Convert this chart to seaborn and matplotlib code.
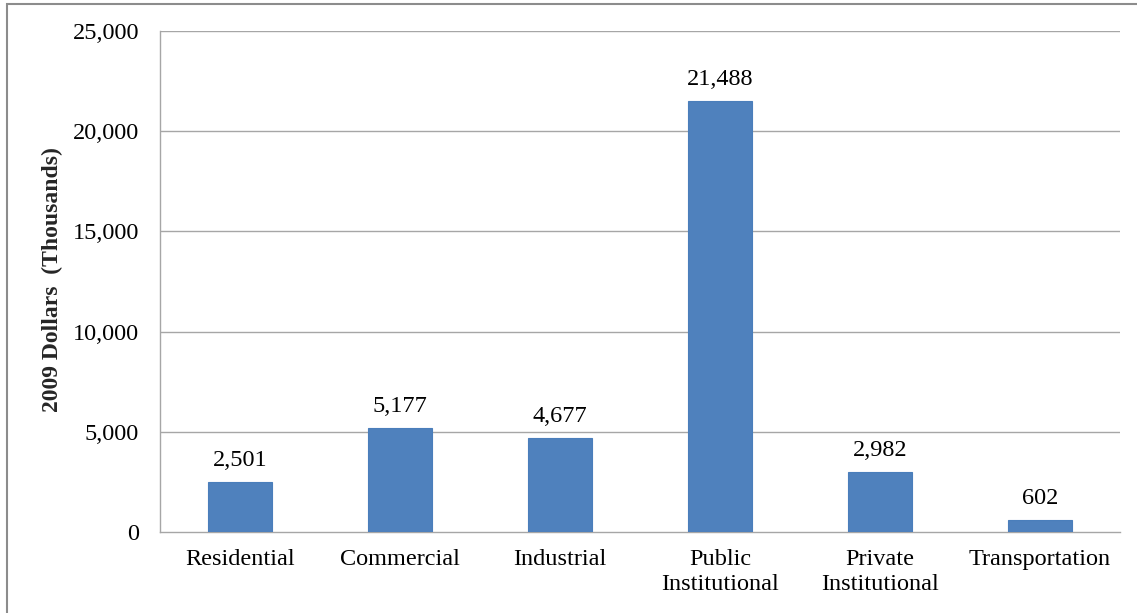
import matplotlib
matplotlib.use("Agg")
import matplotlib.pyplot as plt
import seaborn as sns
import pandas as pd
from matplotlib.patches import Rectangle
from matplotlib.ticker import FuncFormatter, FixedLocator

categories = ["Residential", "Commercial", "Industrial", "Public\nInstitutional",
              "Private\nInstitutional", "Transportation"]
values = [2501, 5177, 4677, 21488, 2982, 602]
y_ticks = [0, 5000, 10000, 15000, 20000, 25000]

sns.set_theme(style="white")
plt.rcParams["font.family"] = ["Liberation Serif", "DejaVu Serif"]

df = pd.DataFrame({"category": categories, "value": values})

fs = 17.5
fig = plt.figure(figsize=(11.37, 6.13), dpi=100)
ax = fig.add_axes([160 / 1137, 1 - 532 / 613, (1120 - 160) / 1137, (532 - 31) / 613])

grid_color = "#a6a6a6"
sns.barplot(data=df, x="category", y="value", ax=ax, color="#4f81bd",
            width=0.4, edgecolor="#4a7ebb", linewidth=0.8, saturation=1, zorder=3)

ax.set_ylim(0, 25000)
ax.set_xlim(-0.5, len(categories) - 0.5)
ax.set_yticks(y_ticks)
ax.yaxis.set_major_formatter(FuncFormatter(lambda v, p: f"{int(v):,}"))
for y in y_ticks[1:]:
    ax.axhline(y, color=grid_color, lw=1.0, zorder=1)

for i, v in enumerate(values):
    ax.annotate(f"{v:,}", (i, v), xytext=(0, 8), textcoords="offset points",
                ha="center", va="bottom", fontsize=fs, color="black")

for side in ["top", "right"]:
    ax.spines[side].set_visible(False)
for side in ["left", "bottom"]:
    ax.spines[side].set_color(grid_color)
    ax.spines[side].set_linewidth(1.0)

ax.tick_params(axis="y", length=7, width=1.0, color=grid_color, labelsize=fs,
               pad=8, labelcolor="black")
ax.tick_params(axis="x", length=0, labelsize=fs, pad=12, labelcolor="black")
# boundary ticks between categories
ax.xaxis.set_minor_locator(FixedLocator([i - 0.5 for i in range(len(categories) + 1)]))
ax.tick_params(axis="x", which="minor", length=7, width=1.0, color=grid_color,
               direction="out")
for lbl in ax.get_xticklabels():
    lbl.set_linespacing(1.3)
    lbl.set_va("top")

ax.set_xlabel("")
ax.set_ylabel("")
fig.text(52 / 1137, 1 - 280 / 613, "2009 Dollars  (Thousands)", rotation=90,
         ha="center", va="center", fontsize=17, fontweight="bold")

# chart-area frame; its right and bottom edges run past the canvas
fig.patches.append(Rectangle((7 / 1137, -0.05), 1.1, 1 - 4 / 613 + 0.05,
                             transform=fig.transFigure, fill=False,
                             edgecolor="#8c8c8c", lw=1.5, clip_on=False))

fig.savefig("out.png", dpi=100)
